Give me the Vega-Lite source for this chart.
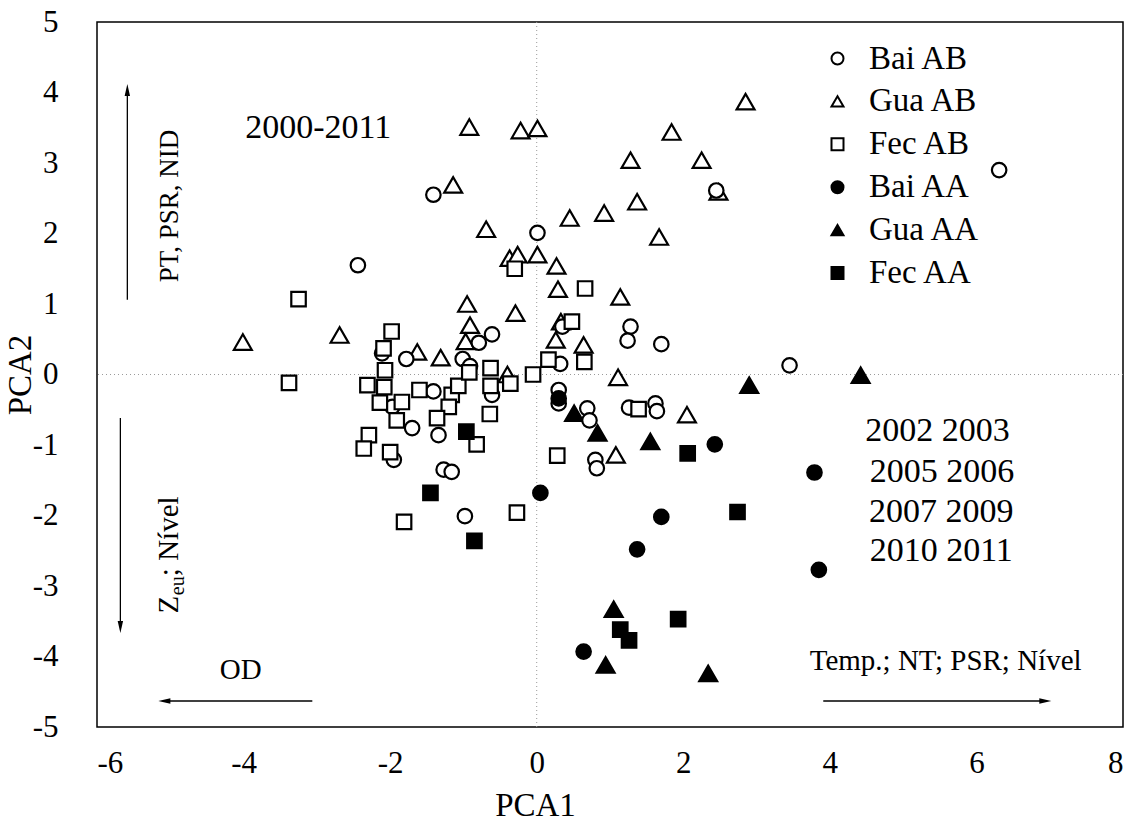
{
  "$schema": "https://vega.github.io/schema/vega-lite/v6.json",
  "width": 1026,
  "height": 705,
  "autosize": {"type": "none"},
  "padding": {"left": 97, "top": 22, "right": 15, "bottom": 99},
  "background": "white",
  "config": {
    "font": "Liberation Serif",
    "view": {"stroke": "black", "strokeWidth": 1.5},
    "axis": {"grid": false, "ticks": false, "tickSize": 0, "domain": false, "labelColor": "black", "titleColor": "black", "labelFont": "Liberation Serif", "titleFont": "Liberation Serif", "titleFontWeight": "normal"},
    "legend": {"labelFont": "Liberation Serif"}
  },
  "datasets": {
    "pts": [
      {"pc1": -2.44, "pc2": 1.55, "series": "Bai AB"},
      {"pc1": -1.41, "pc2": 2.55, "series": "Bai AB"},
      {"pc1": 0.01, "pc2": 2.01, "series": "Bai AB"},
      {"pc1": 2.45, "pc2": 2.61, "series": "Bai AB"},
      {"pc1": 6.31, "pc2": 2.90, "series": "Bai AB"},
      {"pc1": -2.11, "pc2": 0.30, "series": "Bai AB"},
      {"pc1": -1.78, "pc2": 0.22, "series": "Bai AB"},
      {"pc1": -1.01, "pc2": 0.22, "series": "Bai AB"},
      {"pc1": -0.91, "pc2": 0.12, "series": "Bai AB"},
      {"pc1": -0.79, "pc2": 0.45, "series": "Bai AB"},
      {"pc1": -0.61, "pc2": 0.57, "series": "Bai AB"},
      {"pc1": -0.61, "pc2": -0.29, "series": "Bai AB"},
      {"pc1": -1.97, "pc2": -0.46, "series": "Bai AB"},
      {"pc1": -1.70, "pc2": -0.76, "series": "Bai AB"},
      {"pc1": -1.41, "pc2": -0.24, "series": "Bai AB"},
      {"pc1": -1.34, "pc2": -0.86, "series": "Bai AB"},
      {"pc1": -1.95, "pc2": -1.21, "series": "Bai AB"},
      {"pc1": -1.27, "pc2": -1.35, "series": "Bai AB"},
      {"pc1": -1.16, "pc2": -1.38, "series": "Bai AB"},
      {"pc1": -0.98, "pc2": -2.01, "series": "Bai AB"},
      {"pc1": 0.35, "pc2": 0.68, "series": "Bai AB"},
      {"pc1": 1.28, "pc2": 0.68, "series": "Bai AB"},
      {"pc1": 1.24, "pc2": 0.48, "series": "Bai AB"},
      {"pc1": 1.70, "pc2": 0.43, "series": "Bai AB"},
      {"pc1": 0.32, "pc2": 0.15, "series": "Bai AB"},
      {"pc1": 0.30, "pc2": -0.22, "series": "Bai AB"},
      {"pc1": 0.30, "pc2": -0.41, "series": "Bai AB"},
      {"pc1": 0.69, "pc2": -0.48, "series": "Bai AB"},
      {"pc1": 0.72, "pc2": -0.65, "series": "Bai AB"},
      {"pc1": 1.26, "pc2": -0.47, "series": "Bai AB"},
      {"pc1": 1.62, "pc2": -0.41, "series": "Bai AB"},
      {"pc1": 1.64, "pc2": -0.52, "series": "Bai AB"},
      {"pc1": 0.80, "pc2": -1.21, "series": "Bai AB"},
      {"pc1": 0.82, "pc2": -1.33, "series": "Bai AB"},
      {"pc1": 3.45, "pc2": 0.13, "series": "Bai AB"},
      {"pc1": -4.01, "pc2": 0.46, "series": "Gua AB"},
      {"pc1": -2.69, "pc2": 0.56, "series": "Gua AB"},
      {"pc1": -1.63, "pc2": 0.32, "series": "Gua AB"},
      {"pc1": -1.31, "pc2": 0.24, "series": "Gua AB"},
      {"pc1": -0.95, "pc2": 1.00, "series": "Gua AB"},
      {"pc1": -0.91, "pc2": 0.70, "series": "Gua AB"},
      {"pc1": -0.97, "pc2": 0.47, "series": "Gua AB"},
      {"pc1": -0.29, "pc2": 0.87, "series": "Gua AB"},
      {"pc1": -0.40, "pc2": 0.00, "series": "Gua AB"},
      {"pc1": -0.92, "pc2": 3.51, "series": "Gua AB"},
      {"pc1": -0.22, "pc2": 3.46, "series": "Gua AB"},
      {"pc1": 0.01, "pc2": 3.49, "series": "Gua AB"},
      {"pc1": 2.85, "pc2": 3.87, "series": "Gua AB"},
      {"pc1": 1.84, "pc2": 3.44, "series": "Gua AB"},
      {"pc1": 1.28, "pc2": 3.04, "series": "Gua AB"},
      {"pc1": 2.25, "pc2": 3.04, "series": "Gua AB"},
      {"pc1": 2.48, "pc2": 2.59, "series": "Gua AB"},
      {"pc1": -1.14, "pc2": 2.69, "series": "Gua AB"},
      {"pc1": 1.37, "pc2": 2.45, "series": "Gua AB"},
      {"pc1": 0.92, "pc2": 2.29, "series": "Gua AB"},
      {"pc1": 0.45, "pc2": 2.22, "series": "Gua AB"},
      {"pc1": 1.67, "pc2": 1.95, "series": "Gua AB"},
      {"pc1": -0.69, "pc2": 2.06, "series": "Gua AB"},
      {"pc1": -0.37, "pc2": 1.65, "series": "Gua AB"},
      {"pc1": -0.26, "pc2": 1.70, "series": "Gua AB"},
      {"pc1": 0.01, "pc2": 1.70, "series": "Gua AB"},
      {"pc1": 0.27, "pc2": 1.54, "series": "Gua AB"},
      {"pc1": 0.29, "pc2": 1.21, "series": "Gua AB"},
      {"pc1": 1.14, "pc2": 1.10, "series": "Gua AB"},
      {"pc1": 0.33, "pc2": 0.75, "series": "Gua AB"},
      {"pc1": 0.26, "pc2": 0.49, "series": "Gua AB"},
      {"pc1": 0.64, "pc2": 0.42, "series": "Gua AB"},
      {"pc1": 1.11, "pc2": -0.04, "series": "Gua AB"},
      {"pc1": 2.05, "pc2": -0.57, "series": "Gua AB"},
      {"pc1": 1.08, "pc2": -1.14, "series": "Gua AB"},
      {"pc1": -3.25, "pc2": 1.07, "series": "Fec AB"},
      {"pc1": -3.38, "pc2": -0.12, "series": "Fec AB"},
      {"pc1": -1.98, "pc2": 0.61, "series": "Fec AB"},
      {"pc1": -2.09, "pc2": 0.37, "series": "Fec AB"},
      {"pc1": -2.07, "pc2": 0.06, "series": "Fec AB"},
      {"pc1": -2.31, "pc2": -0.15, "series": "Fec AB"},
      {"pc1": -2.08, "pc2": -0.18, "series": "Fec AB"},
      {"pc1": -2.14, "pc2": -0.40, "series": "Fec AB"},
      {"pc1": -1.84, "pc2": -0.39, "series": "Fec AB"},
      {"pc1": -1.91, "pc2": -0.65, "series": "Fec AB"},
      {"pc1": -1.60, "pc2": -0.22, "series": "Fec AB"},
      {"pc1": -1.16, "pc2": -0.29, "series": "Fec AB"},
      {"pc1": -1.07, "pc2": -0.16, "series": "Fec AB"},
      {"pc1": -1.20, "pc2": -0.46, "series": "Fec AB"},
      {"pc1": -1.36, "pc2": -0.62, "series": "Fec AB"},
      {"pc1": -0.82, "pc2": -0.99, "series": "Fec AB"},
      {"pc1": -2.29, "pc2": -0.86, "series": "Fec AB"},
      {"pc1": -2.36, "pc2": -1.05, "series": "Fec AB"},
      {"pc1": -2.00, "pc2": -1.10, "series": "Fec AB"},
      {"pc1": -1.81, "pc2": -2.09, "series": "Fec AB"},
      {"pc1": -0.92, "pc2": 0.03, "series": "Fec AB"},
      {"pc1": -0.63, "pc2": 0.09, "series": "Fec AB"},
      {"pc1": -0.63, "pc2": -0.16, "series": "Fec AB"},
      {"pc1": -0.64, "pc2": -0.56, "series": "Fec AB"},
      {"pc1": -0.36, "pc2": -0.13, "series": "Fec AB"},
      {"pc1": -0.05, "pc2": 0.00, "series": "Fec AB"},
      {"pc1": 0.16, "pc2": 0.21, "series": "Fec AB"},
      {"pc1": -0.30, "pc2": 1.50, "series": "Fec AB"},
      {"pc1": 0.66, "pc2": 1.22, "series": "Fec AB"},
      {"pc1": 0.48, "pc2": 0.75, "series": "Fec AB"},
      {"pc1": 0.65, "pc2": 0.18, "series": "Fec AB"},
      {"pc1": 1.39, "pc2": -0.49, "series": "Fec AB"},
      {"pc1": 0.28, "pc2": -1.15, "series": "Fec AB"},
      {"pc1": -0.27, "pc2": -1.96, "series": "Fec AB"},
      {"pc1": 0.30, "pc2": -0.34, "series": "Bai AA"},
      {"pc1": 0.05, "pc2": -1.68, "series": "Bai AA"},
      {"pc1": 2.43, "pc2": -0.99, "series": "Bai AA"},
      {"pc1": 3.79, "pc2": -1.39, "series": "Bai AA"},
      {"pc1": 1.70, "pc2": -2.02, "series": "Bai AA"},
      {"pc1": 1.37, "pc2": -2.48, "series": "Bai AA"},
      {"pc1": 3.85, "pc2": -2.77, "series": "Bai AA"},
      {"pc1": 0.64, "pc2": -3.93, "series": "Bai AA"},
      {"pc1": 0.51, "pc2": -0.55, "series": "Gua AA"},
      {"pc1": 0.83, "pc2": -0.83, "series": "Gua AA"},
      {"pc1": 1.55, "pc2": -0.95, "series": "Gua AA"},
      {"pc1": 2.90, "pc2": -0.15, "series": "Gua AA"},
      {"pc1": 4.42, "pc2": -0.01, "series": "Gua AA"},
      {"pc1": 1.05, "pc2": -3.33, "series": "Gua AA"},
      {"pc1": 0.94, "pc2": -4.12, "series": "Gua AA"},
      {"pc1": 2.34, "pc2": -4.24, "series": "Gua AA"},
      {"pc1": -0.96, "pc2": -0.81, "series": "Fec AA"},
      {"pc1": -1.45, "pc2": -1.68, "series": "Fec AA"},
      {"pc1": -0.85, "pc2": -2.36, "series": "Fec AA"},
      {"pc1": 2.06, "pc2": -1.12, "series": "Fec AA"},
      {"pc1": 2.74, "pc2": -1.95, "series": "Fec AA"},
      {"pc1": 1.14, "pc2": -3.62, "series": "Fec AA"},
      {"pc1": 1.26, "pc2": -3.77, "series": "Fec AA"},
      {"pc1": 1.93, "pc2": -3.47, "series": "Fec AA"}
    ],
    "arrows": [
      {"x1": -5.586, "y1": 1.06, "x2": -5.586, "y2": 4.03, "hx": -5.586, "hy": 4.035, "rot": 0},
      {"x1": -5.681, "y1": -0.617, "x2": -5.681, "y2": -3.58, "hx": -5.681, "hy": -3.582, "rot": 180},
      {"x1": -3.062, "y1": -4.631, "x2": -5.08, "y2": -4.631, "hx": -5.081, "hy": -4.631, "rot": 270},
      {"x1": 3.91, "y1": -4.631, "x2": 6.94, "y2": -4.631, "hx": 6.94, "hy": -4.631, "rot": 90}
    ],
    "bigtext": [
      {"label": "2000-2011", "tx": -2.98, "ty": 3.50},
      {"label": "2002 2003", "tx": 5.47, "ty": -0.80},
      {"label": "2005 2006", "tx": 5.53, "ty": -1.38},
      {"label": "2007  2009", "tx": 5.52, "ty": -1.95},
      {"label": "2010 2011", "tx": 5.52, "ty": -2.50}
    ],
    "smalltext": [
      {"label": "OD", "tx": -4.04, "ty": -4.19},
      {"label": "Temp.; NT; PSR; Nível", "tx": 5.58, "ty": -4.06}
    ],
    "vtext": [
      {"label": "PT, PSR, NID", "tx": -4.90, "ty": 2.39}
    ],
    "vparts": [
      {"label": "Z", "tx": -4.90, "ty": -3.39},
      {"label": "; Nível", "tx": -4.90, "ty": -2.86}
    ],
    "vsub": [
      {"label": "eu", "tx": -4.81, "ty": -3.13}
    ]
  },
  "layer": [
    {
      "data": {"values": [{"v": 0}]},
      "mark": {"type": "rule", "color": "#9a9a9a", "strokeWidth": 1, "strokeDash": [1, 3]},
      "encoding": {"x": {"field": "v", "type": "quantitative", "scale": {"domain": [-6, 8], "nice": false, "zero": false}}}
    },
    {
      "data": {"values": [{"v": 0}]},
      "mark": {"type": "rule", "color": "#9a9a9a", "strokeWidth": 1, "strokeDash": [1, 3]},
      "encoding": {"y": {"field": "v", "type": "quantitative", "scale": {"domain": [-5, 5], "nice": false, "zero": false}}}
    },
    {
      "data": {"name": "pts"},
      "transform": [{"filter": "datum.series == 'Gua AB' || datum.series == 'Gua AA'"}],
      "mark": {"type": "point", "size": 320, "strokeWidth": 2.2, "opacity": 1, "fillOpacity": 1},
      "encoding": {
        "x": {"field": "pc1", "type": "quantitative", "scale": {"domain": [-6, 8], "nice": false, "zero": false},
          "axis": {"values": [-6, -4, -2, 0, 2, 4, 6, 8], "labelExpr": "'' + datum.value", "labelFont": "Liberation Serif", "labelFontSize": 31, "labelPadding": 21, "title": "PCA1", "titleFontSize": 33, "titleX": 438, "titleY": 88, "titleBaseline": "alphabetic", "titleAlign": "center"}},
        "y": {"field": "pc2", "type": "quantitative", "scale": {"domain": [-5, 5], "nice": false, "zero": false},
          "axis": {"values": [-5, -4, -3, -2, -1, 0, 1, 2, 3, 4, 5], "labelExpr": "'' + datum.value", "labelFont": "Liberation Serif", "labelFontSize": 31, "labelPadding": 39, "title": "PCA2", "titleFontSize": 33, "titleX": -67, "titleY": 352.5, "titleAngle": 270, "titleBaseline": "alphabetic", "titleAlign": "center"}},
        "shape": {"field": "series", "type": "nominal",
          "scale": {"domain": ["Bai AB", "Gua AB", "Fec AB", "Bai AA", "Gua AA", "Fec AA"], "range": ["circle", "triangle-up", "square", "circle", "triangle-up", "square"]},
          "legend": {"title": null, "orient": "none", "legendX": 724, "legendY": 20, "labelFontSize": 33, "labelColor": "black", "labelFont": "Liberation Serif", "symbolSize": 144, "symbolStrokeWidth": 2, "symbolStrokeColor": "black", "rowPadding": 8.9, "labelOffset": 15, "padding": 0}},
        "fill": {"field": "series", "type": "nominal",
          "scale": {"domain": ["Bai AB", "Gua AB", "Fec AB", "Bai AA", "Gua AA", "Fec AA"], "range": ["white", "white", "white", "black", "black", "black"]},
          "legend": {"title": null, "orient": "none", "legendX": 724, "legendY": 20, "labelFontSize": 33, "labelColor": "black", "labelFont": "Liberation Serif", "symbolSize": 144, "symbolStrokeWidth": 2, "symbolStrokeColor": "black", "rowPadding": 8.9, "labelOffset": 15, "padding": 0}},
        "stroke": {"field": "series", "type": "nominal",
          "scale": {"domain": ["Bai AB", "Gua AB", "Fec AB", "Bai AA", "Gua AA", "Fec AA"], "range": ["black", "black", "black", "black", "black", "black"]},
          "legend": {"title": null, "orient": "none", "legendX": 724, "legendY": 20, "labelFontSize": 33, "labelColor": "black", "labelFont": "Liberation Serif", "symbolSize": 144, "symbolStrokeWidth": 2, "symbolStrokeColor": "black", "rowPadding": 8.9, "labelOffset": 15, "padding": 0}}
      }
    },
    {
      "data": {"name": "pts"},
      "transform": [{"filter": "datum.series != 'Gua AB' && datum.series != 'Gua AA'"}],
      "mark": {"type": "point", "size": 210, "strokeWidth": 2.2, "opacity": 1, "fillOpacity": 1},
      "encoding": {
        "x": {"field": "pc1", "type": "quantitative"},
        "y": {"field": "pc2", "type": "quantitative"},
        "shape": {"field": "series", "type": "nominal"},
        "fill": {"field": "series", "type": "nominal"},
        "stroke": {"field": "series", "type": "nominal"}
      }
    },
    {
      "data": {"name": "arrows"},
      "mark": {"type": "rule", "color": "black", "strokeWidth": 1.3},
      "encoding": {
        "x": {"field": "x1", "type": "quantitative"},
        "y": {"field": "y1", "type": "quantitative"},
        "x2": {"field": "x2"},
        "y2": {"field": "y2"}
      }
    },
    {
      "data": {"name": "arrows"},
      "mark": {"type": "point", "shape": "M0,-1L-0.45,1L0.45,1Z", "size": 144, "filled": true, "color": "black", "opacity": 1, "strokeWidth": 0},
      "encoding": {
        "x": {"field": "hx", "type": "quantitative"},
        "y": {"field": "hy", "type": "quantitative"},
        "angle": {"field": "rot", "type": "quantitative", "scale": null}
      }
    },
    {
      "data": {"name": "bigtext"},
      "mark": {"type": "text", "font": "Liberation Serif", "fontSize": 34, "align": "center", "baseline": "middle", "color": "black"},
      "encoding": {
        "x": {"field": "tx", "type": "quantitative"},
        "y": {"field": "ty", "type": "quantitative"},
        "text": {"field": "label"}
      }
    },
    {
      "data": {"name": "smalltext"},
      "mark": {"type": "text", "font": "Liberation Serif", "fontSize": 29, "align": "center", "baseline": "middle", "color": "black"},
      "encoding": {
        "x": {"field": "tx", "type": "quantitative"},
        "y": {"field": "ty", "type": "quantitative"},
        "text": {"field": "label"}
      }
    },
    {
      "data": {"name": "vtext"},
      "mark": {"type": "text", "font": "Liberation Serif", "fontSize": 27, "align": "center", "baseline": "alphabetic", "angle": 270, "color": "black"},
      "encoding": {
        "x": {"field": "tx", "type": "quantitative"},
        "y": {"field": "ty", "type": "quantitative"},
        "text": {"field": "label"}
      }
    },
    {
      "data": {"name": "vparts"},
      "mark": {"type": "text", "font": "Liberation Serif", "fontSize": 29, "align": "left", "baseline": "alphabetic", "angle": 270, "color": "black"},
      "encoding": {
        "x": {"field": "tx", "type": "quantitative"},
        "y": {"field": "ty", "type": "quantitative"},
        "text": {"field": "label"}
      }
    },
    {
      "data": {"name": "vsub"},
      "mark": {"type": "text", "font": "Liberation Serif", "fontSize": 20, "align": "left", "baseline": "alphabetic", "angle": 270, "color": "black"},
      "encoding": {
        "x": {"field": "tx", "type": "quantitative"},
        "y": {"field": "ty", "type": "quantitative"},
        "text": {"field": "label"}
      }
    }
  ]
}
